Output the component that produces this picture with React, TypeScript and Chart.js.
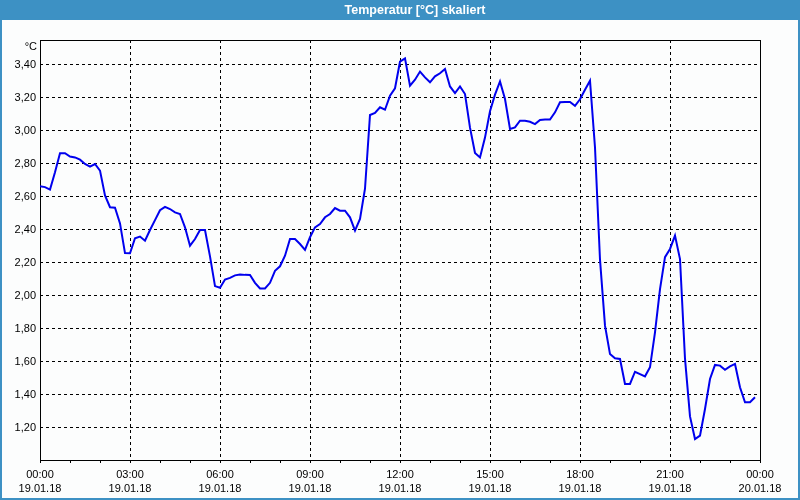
import React, { useEffect, useRef } from "react";
import { Chart, registerables } from "chart.js";

Chart.register(...registerables);

const TITLE = "Temperatur [°C] skaliert";
const UNIT = "°C";
const SAMPLE_INTERVAL_MIN = 10;

// 10-minute samples from 19.01.18 00:00 to 23:50
const temperatures = [
  2.665, 2.66, 2.645, 2.75, 2.865, 2.865, 2.845, 2.84, 2.826, 2.8,
  2.784, 2.8, 2.76, 2.61, 2.538, 2.535, 2.44, 2.26, 2.259, 2.35,
  2.36, 2.335, 2.4, 2.46, 2.52, 2.54, 2.527, 2.507, 2.497, 2.416,
  2.305, 2.345, 2.4, 2.4, 2.24, 2.06, 2.05, 2.1, 2.11, 2.125,
  2.13, 2.128, 2.127, 2.08, 2.046, 2.046, 2.08, 2.153, 2.18, 2.244,
  2.345, 2.345, 2.315, 2.28, 2.356, 2.416, 2.436, 2.477, 2.497, 2.533,
  2.517, 2.517, 2.477, 2.396, 2.467, 2.65, 3.097, 3.109, 3.144, 3.129,
  3.214, 3.259, 3.42, 3.44, 3.275, 3.311, 3.36, 3.325, 3.295, 3.331,
  3.35, 3.376, 3.27, 3.23, 3.27, 3.224, 3.02, 2.867, 2.84, 2.96,
  3.12, 3.22, 3.3, 3.194, 3.012, 3.022, 3.062, 3.062, 3.056, 3.042,
  3.067, 3.069, 3.069, 3.113, 3.174, 3.176, 3.176, 3.153, 3.192, 3.25,
  3.305, 2.9, 2.22, 1.82, 1.648, 1.622, 1.618, 1.467, 1.467, 1.541,
  1.527, 1.513, 1.568, 1.78, 2.042, 2.235, 2.285, 2.366, 2.224, 1.62,
  1.27, 1.133, 1.154, 1.315, 1.497, 1.582, 1.578, 1.553, 1.573, 1.588,
  1.447, 1.356, 1.356, 1.386,
];

const xTickTimes = ["00:00", "03:00", "06:00", "09:00", "12:00", "15:00", "18:00", "21:00", "00:00"];
const xTickDates = ["19.01.18", "19.01.18", "19.01.18", "19.01.18", "19.01.18", "19.01.18", "19.01.18", "19.01.18", "20.01.18"];
const yTickValues = [1.2, 1.4, 1.6, 1.8, 2.0, 2.2, 2.4, 2.6, 2.8, 3.0, 3.2, 3.4];
const yTickLabels = ["1,20", "1,40", "1,60", "1,80", "2,00", "2,20", "2,40", "2,60", "2,80", "3,00", "3,20", "3,40"];

const FONT = "'Liberation Sans', Arial, sans-serif";
const BAR = "#3d91c4";

const framePlugin = {
  id: "frame",
  beforeDatasetsDraw(chart: any) {
    const { ctx, chartArea } = chart;
    ctx.save();
    ctx.strokeStyle = "#000";
    ctx.lineWidth = 1;
    ctx.setLineDash([]);
    ctx.strokeRect(
      Math.round(chartArea.left) + 0.5,
      Math.round(chartArea.top) + 0.5,
      Math.round(chartArea.right) - Math.round(chartArea.left),
      Math.round(chartArea.bottom) - Math.round(chartArea.top)
    );
    ctx.restore();
  },
};

export default function App() {
  const ref = useRef<HTMLCanvasElement | null>(null);

  useEffect(() => {
    if (!ref.current) return;
    Chart.defaults.font.family = FONT;
    Chart.defaults.font.size = 11;
    Chart.defaults.color = "#000";
    const points = temperatures.map((v, i) => ({ x: i * SAMPLE_INTERVAL_MIN, y: v }));
    const chart = new Chart(ref.current, {
      type: "line",
      data: {
        datasets: [
          {
            data: points,
            borderColor: "#0000ee",
            borderWidth: 2,
            pointRadius: 0,
            tension: 0,
            fill: false,
          },
        ],
      },
      options: {
        animation: false,
        responsive: false,
        devicePixelRatio: 1,
        layout: { padding: { top: 40, right: 40, bottom: 0, left: 0 } },
        plugins: {
          legend: { display: false },
          title: { display: false },
          tooltip: { enabled: false },
        },
        scales: {
          x: {
            type: "linear",
            min: 0,
            max: 1440,
            afterFit: (s: any) => {
              s.height = 40;
            },
            ticks: {
              stepSize: 60,
              autoSkip: false,
              maxRotation: 0,
              minRotation: 0,
              padding: 5,
              color: "#000",
              font: { size: 11, family: FONT, lineHeight: 1.3 },
              callback: (value: any) => {
                const v = Number(value);
                if (v % 180 !== 0) return "";
                const k = v / 180;
                return [xTickTimes[k], xTickDates[k]];
              },
            },
            grid: {
              drawTicks: true,
              tickLength: 3,
              lineWidth: 1,
              color: (ctx: any) =>
                ctx.tick && ctx.tick.value % 180 === 0 ? "#000" : "rgba(0,0,0,0)",
              tickColor: "#000",
            },
            border: { display: false, dash: [3, 3] },
          },
          y: {
            type: "linear",
            min: 1.006,
            max: 3.5515,
            afterFit: (s: any) => {
              s.width = 40;
            },
            afterBuildTicks: (s: any) => {
              s.ticks = yTickValues.map((value) => ({ value }));
            },
            ticks: {
              padding: 4,
              color: "#000",
              font: { size: 11, family: FONT },
              callback: (_v: any, i: number) => yTickLabels[i],
            },
            grid: {
              drawTicks: false,
              lineWidth: 1,
              color: "#000",
            },
            border: { display: false, dash: [3, 3] },
          },
        },
      },
      plugins: [framePlugin],
    });
    return () => chart.destroy();
  }, []);

  return (
    <div
      style={{
        position: "absolute",
        left: 0,
        top: 0,
        width: 800,
        height: 500,
        background: "#fcfdfd",
        overflow: "hidden",
        fontFamily: FONT,
      }}
    >
      <canvas ref={ref} width={800} height={500} style={{ position: "absolute", left: 0, top: 0 }} />
      <div
        style={{
          position: "absolute",
          left: 30,
          top: 0,
          width: 770,
          height: 20,
          color: "#fff",
          fontWeight: "bold",
          fontSize: 12.5,
          lineHeight: "20px",
          textAlign: "center",
          zIndex: 2,
        }}
      >
        {TITLE}
      </div>
      <div
        style={{
          position: "absolute",
          left: 0,
          top: 0,
          width: 800,
          height: 20,
          background: BAR,
          zIndex: 1,
        }}
      />
      <div
        style={{
          position: "absolute",
          left: 0,
          top: 20,
          width: 800,
          height: 480,
          boxSizing: "border-box",
          borderLeft: `2px solid ${BAR}`,
          borderRight: `2px solid ${BAR}`,
          borderBottom: `2px solid ${BAR}`,
          pointerEvents: "none",
        }}
      />
      <div
        style={{
          position: "absolute",
          left: 0,
          top: 39,
          width: 37,
          textAlign: "right",
          fontSize: 11,
          lineHeight: "14px",
          color: "#000",
        }}
      >
        {UNIT}
      </div>
    </div>
  );
}
